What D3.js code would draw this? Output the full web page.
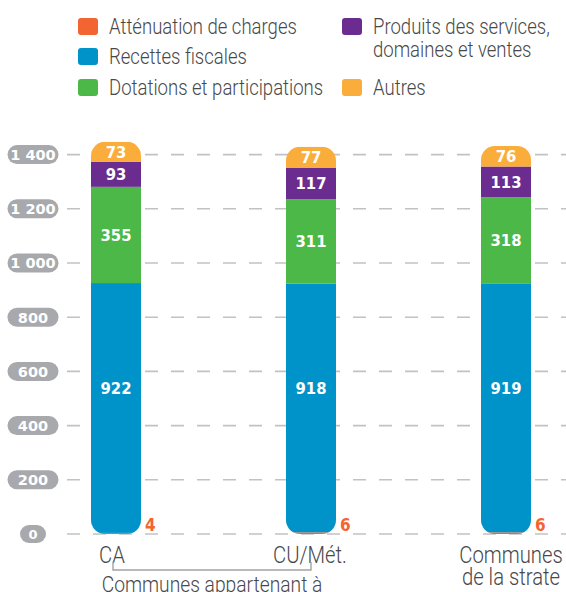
<!DOCTYPE html>
<html>
<head>
<meta charset="utf-8">
<script src="https://cdn.jsdelivr.net/npm/d3@7"></script>
<style>
  html, body { margin: 0; padding: 0; background: #fff; }
  svg { display: block; }
</style>
</head>
<body>
<svg id="chart" width="566" height="592"></svg>
<script>
// Categories along the x axis
const categories = ["CA", "CU/Mét.", "Communes de la strate"];
const categoryLines = [["CA"], ["CU/Mét."], ["Communes", "de la strate"]];

// Stacked series, bottom to top
const seriesNames = [
  "Atténuation de charges",
  "Recettes fiscales",
  "Dotations et participations",
  "Produits des services, domaines et ventes",
  "Autres"
];
const attenuation = [4, 6, 6];
const recettesFiscales = [922, 918, 919];
const dotations = [355, 311, 318];
const produits = [93, 117, 113];
const autres = [73, 77, 76];

const colors = ["#f26532", "#0093c9", "#4cb848", "#6b2c8f", "#fbad3c"];

const yTicks = [0, 200, 400, 600, 800, 1000, 1200, 1400];
const yTickLabels = ["0", "200", "400", "600", "800", "1 000", "1 200", "1 400"];

const groupLabel = "Communes appartenant à";

// Legend layout: [series index, column, row, lines]
const legendItems = [
  [0, 0, 0, ["Atténuation de charges"]],
  [1, 0, 1, ["Recettes fiscales"]],
  [2, 0, 2, ["Dotations et participations"]],
  [3, 1, 0, ["Produits des services,", "domaines et ventes"]],
  [4, 1, 2, ["Autres"]]
];

const seriesValues = [attenuation, recettesFiscales, dotations, produits, autres];
const rows = categories.map((c, i) => {
  const r = { cat: c };
  seriesNames.forEach((s, k) => r[s] = seriesValues[k][i]);
  return r;
});

const svg = d3.select("#chart");
const textFont = "Roboto, 'Liberation Sans', sans-serif";
const numFont = "'DejaVu Sans Condensed', 'DejaVu Sans', sans-serif";
const tickFont = "'DejaVu Sans', sans-serif";
const textColor = "#48484a";
const legendSize = 21.5;

// Horizontal condensation for the light label face
const probe = svg.append("text")
  .attr("font-family", textFont).attr("font-weight", 300)
  .attr("font-size", legendSize).text(legendItems[0][3][0]);
const sx = 188 / probe.node().getComputedTextLength();
probe.remove();

function label(parent, px, py, lines, size, lineGap, anchor) {
  const t = parent.append("text")
    .attr("transform", `translate(${px},${py}) scale(${sx},1)`)
    .attr("text-anchor", anchor || "start")
    .attr("font-family", textFont).attr("font-weight", 300)
    .attr("font-size", size).attr("fill", textColor);
  lines.forEach((ln, j) => {
    t.append("tspan").attr("x", 0).attr("dy", j === 0 ? 0 : lineGap).text(ln);
  });
  return t;
}

const x = d3.scalePoint().domain(categories).range([116, 506]);
const y = d3.scaleLinear().domain([0, 1400]).range([534, 154.6]);
const barW = 50;

// Gridlines
svg.append("g").selectAll("line").data(yTicks).join("line")
  .attr("x1", 67).attr("x2", 566)
  .attr("y1", d => y(d)).attr("y2", d => y(d))
  .attr("stroke", "#c2c2c2").attr("stroke-width", 1.6)
  .attr("stroke-dasharray", "13,13");

// Y tick pills
const tickG = svg.append("g").selectAll("g").data(yTicks).join("g")
  .attr("transform", d => `translate(33,${y(d)})`);
tickG.each(function(d, i) {
  const g = d3.select(this);
  const w = d === 0 ? 26 : 51, h = d === 0 ? 18 : 19;
  g.append("rect").attr("fill", "#a8a9ad")
    .attr("x", -w / 2).attr("y", -h / 2).attr("width", w).attr("height", h).attr("rx", h / 2);
  g.append("text").text(yTickLabels[i])
    .attr("text-anchor", "middle").attr("dy", "0.37em")
    .attr("font-family", tickFont).attr("font-weight", "bold")
    .attr("font-size", d === 0 ? 13 : 14.5).attr("fill", "#fff");
});

// Stacked bars, each clipped to a rounded column
const stack = d3.stack().keys(seriesNames)(rows);
const defs = svg.append("defs");
rows.forEach((r, i) => {
  const total = seriesNames.reduce((s, k) => s + r[k], 0);
  defs.append("clipPath").attr("id", "clip" + i)
    .append("rect")
    .attr("x", x(r.cat) - barW / 2).attr("y", y(total))
    .attr("width", barW).attr("height", y(0) - y(total))
    .attr("rx", 14);
});

const barsG = svg.append("g");
stack.forEach((layer, k) => {
  barsG.append("g").selectAll("rect").data(layer).join("rect")
    .attr("clip-path", (d, i) => `url(#clip${i})`)
    .attr("x", d => x(d.data.cat) - barW / 2)
    .attr("y", d => y(d[1]))
    .attr("width", barW)
    .attr("height", d => y(d[0]) - y(d[1]))
    .attr("fill", colors[k]);
});

// Segment value labels
stack.forEach((layer, k) => {
  if (k === 0) {
    svg.append("g").selectAll("text").data(layer).join("text")
      .attr("x", d => x(d.data.cat) + barW / 2 + 4)
      .attr("y", y(0) - 3)
      .attr("font-family", numFont).attr("font-weight", "bold")
      .attr("font-size", 17).attr("fill", colors[0])
      .text(d => d[1] - d[0]);
    return;
  }
  // the fiscal block label sits a little above its middle
  const pos = k === 1 ? 0.58 : 0.5;
  svg.append("g").selectAll("text").data(layer).join("text")
    .attr("x", d => x(d.data.cat))
    .attr("y", d => y(d[0] + (d[1] - d[0]) * pos))
    .attr("dy", "0.36em")
    .attr("text-anchor", "middle")
    .attr("font-family", numFont).attr("font-weight", "bold")
    .attr("font-size", 16.5).attr("fill", "#fff")
    .text(d => d[1] - d[0]);
});

// X category labels
const xLabelSize = 23.5;
categories.forEach((c, i) => {
  const dx = i === 0 ? -4 : (i === 2 ? 5 : -1);
  label(svg, x(c) + dx, 563, categoryLines[i], xLabelSize, 22, "middle");
});

// Bracket grouping the first two categories
const bx1 = x(categories[0]) - 3, bx2 = x(categories[1]);
svg.append("path")
  .attr("d", `M${bx1},562V570H${bx2}V562`)
  .attr("fill", "none").attr("stroke", "#a3a3a3").attr("stroke-width", 1.4);
label(svg, (bx1 + bx2) / 2, 592, [groupLabel], xLabelSize * 0.95, 0, "middle");

// Legend
const colX = [78, 342], rowY = [18, 48, 79];
const legend = svg.append("g");
legendItems.forEach(([k, col, row, lines]) => {
  legend.append("rect")
    .attr("x", colX[col]).attr("y", rowY[row])
    .attr("width", 20).attr("height", 17).attr("rx", 3)
    .attr("fill", colors[k]);
  label(legend, colX[col] + 31, rowY[row] + 16, lines, legendSize, 23);
});
</script>
</body>
</html>
